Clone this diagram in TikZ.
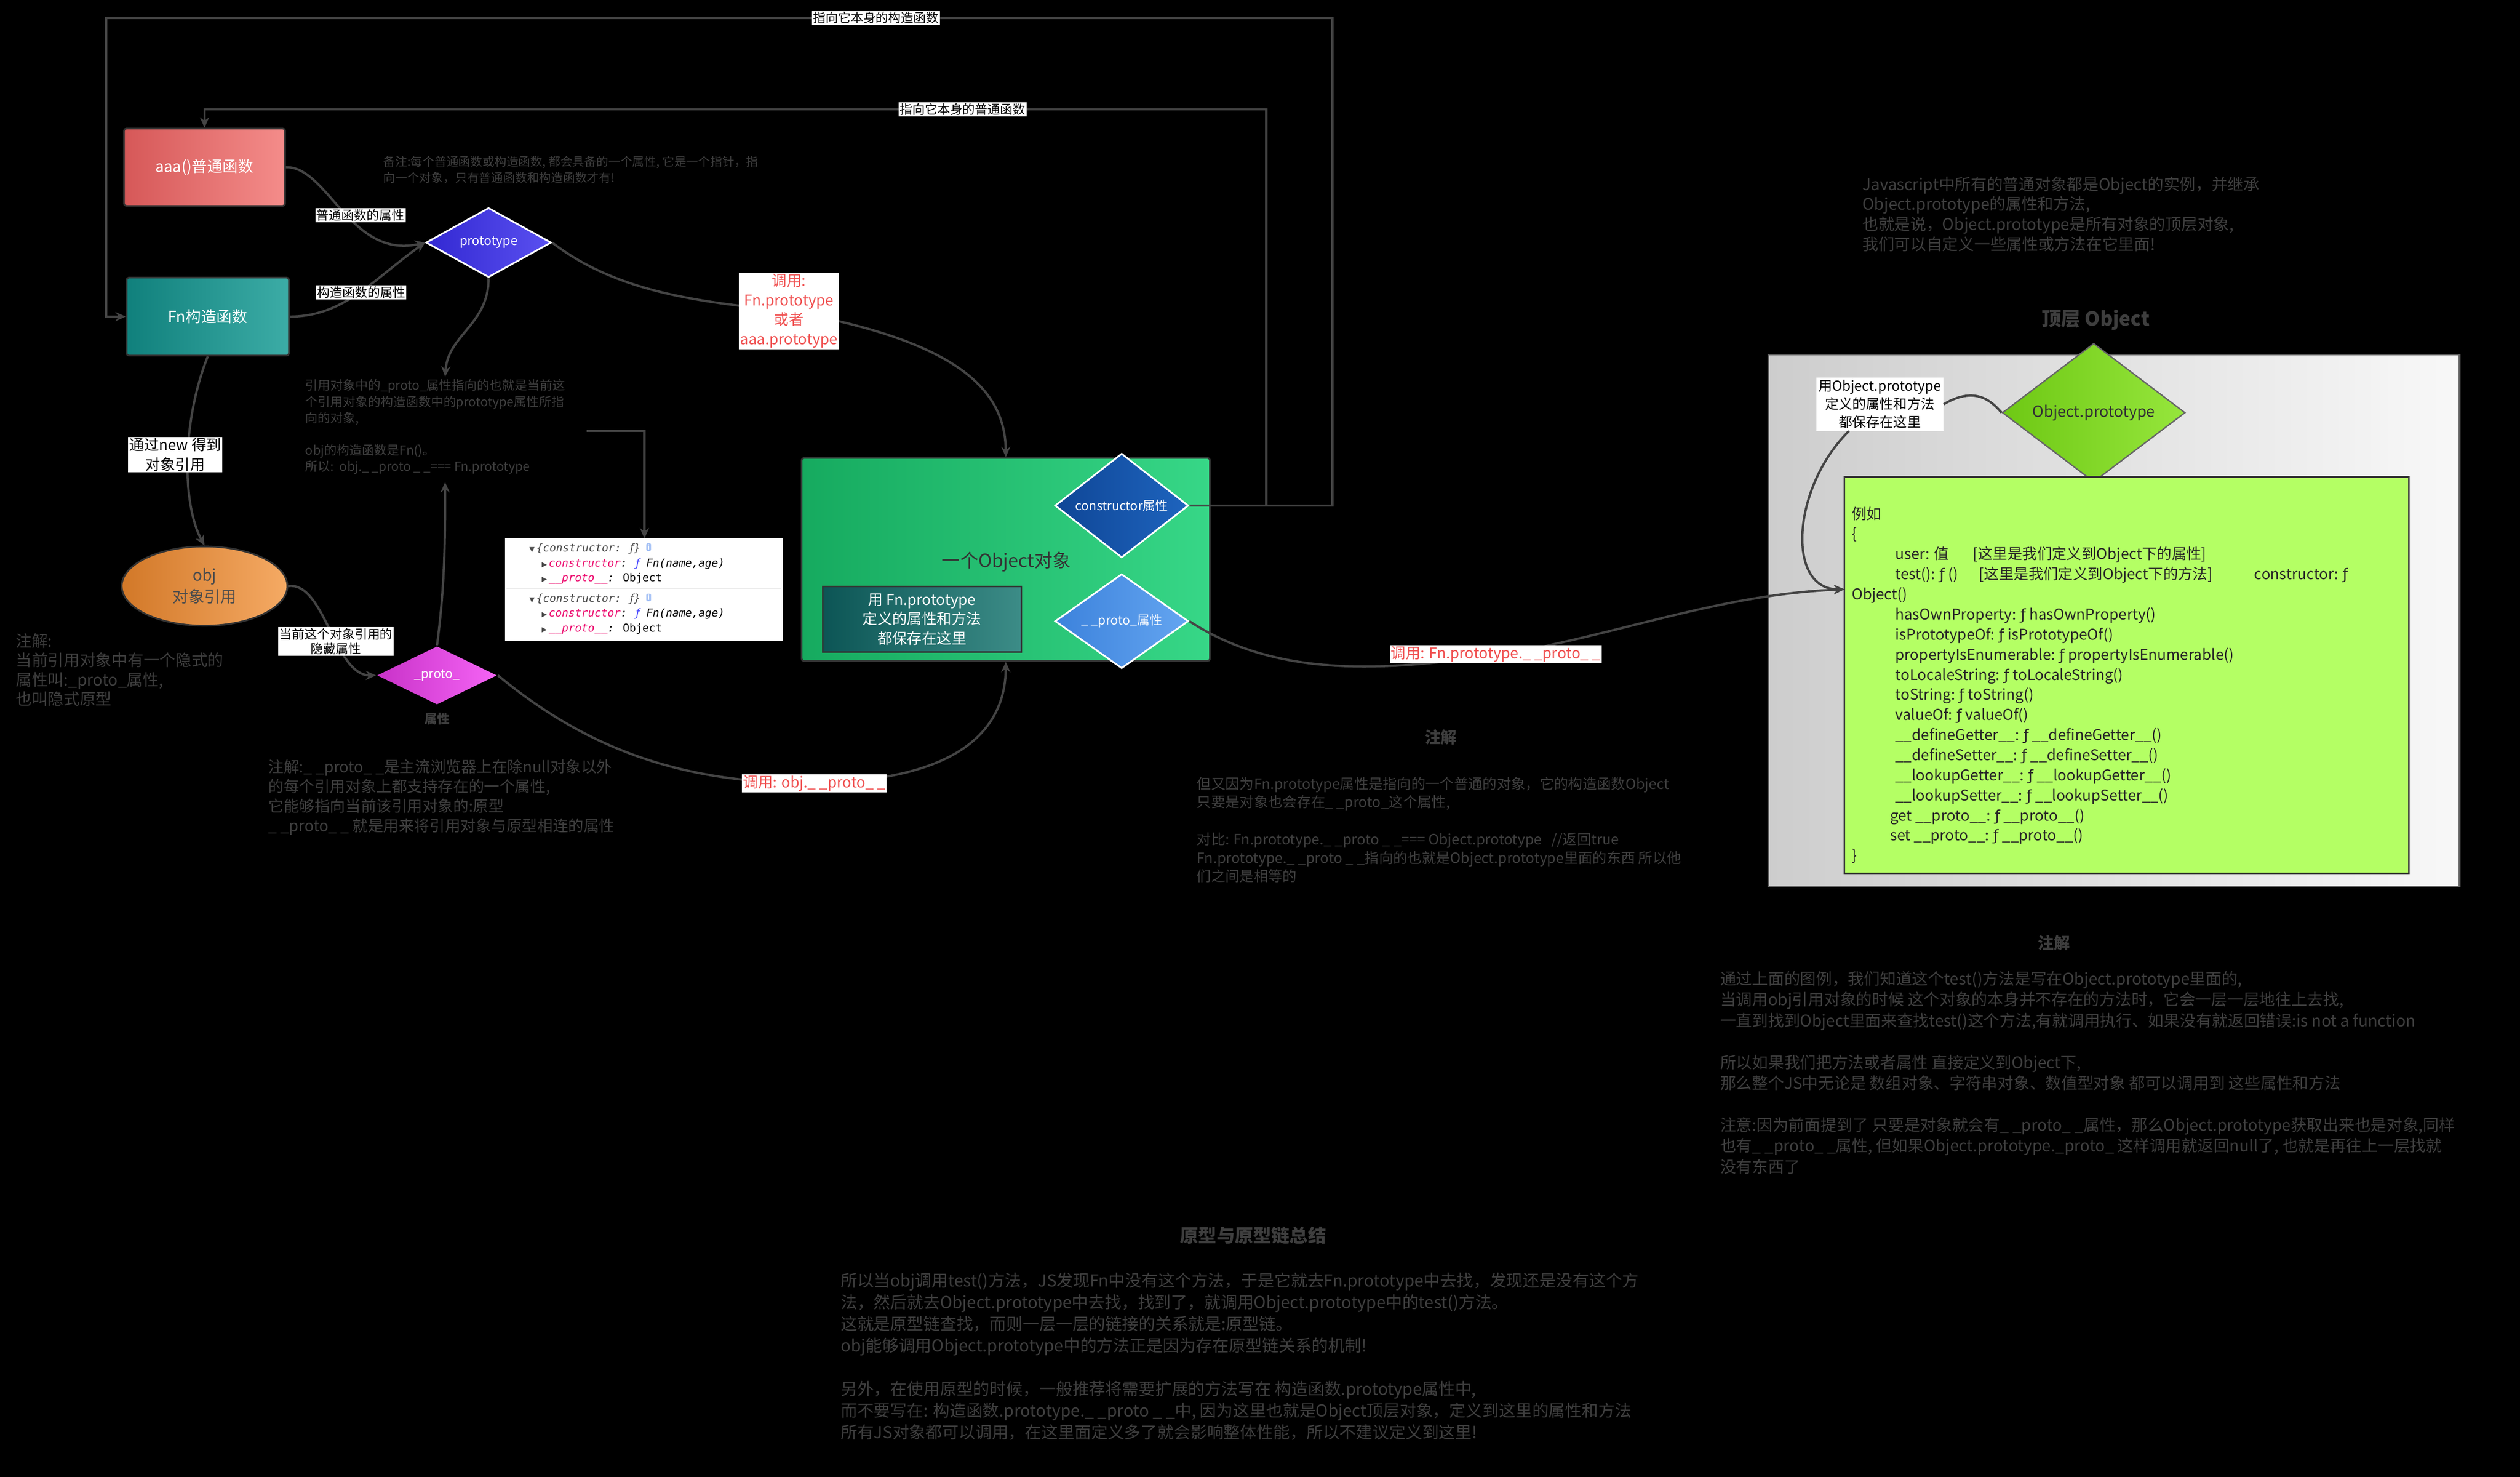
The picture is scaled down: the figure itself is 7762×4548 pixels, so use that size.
\documentclass[tikz,border=0pt]{standalone}
\usepackage{fontspec}
\setmainfont{Noto Sans CJK SC}
\newfontfamily\djv{DejaVu Sans}
\newfontfamily\djm{DejaVu Sans Mono}
\usetikzlibrary{shapes.geometric,arrows.meta}
\newcommand\fsym{{\djv ƒ}}
\definecolor{notegray}{HTML}{3E3E3E}
\definecolor{lgray}{HTML}{444444}
\definecolor{redtxt}{HTML}{F05050}
\definecolor{limec}{HTML}{B4FF64}
\begin{document}
\begin{tikzpicture}[x=0.01cm,y=-0.01cm,
  conn/.style={draw=lgray,line width=2pt},
  arr/.style={conn,-{Stealth[length=9pt,width=8pt]}},
  boxn/.style={draw=black!80,line width=1.5pt,rounded corners=2pt,text=white,align=center,inner sep=0},
  dia/.style={diamond,draw=white,line width=1.5pt,inner sep=0,text=white,align=center},
  note/.style={anchor=north west,align=left,inner sep=0,text=notegray},
  wlbl/.style={fill=white,text=black,inner sep=1pt,align=center,font=\fontsize{11}{14}\selectfont},
  rlbl/.style={fill=white,text=redtxt,inner sep=1pt,align=center,font=\fontsize{13}{17}\selectfont},
  ttl/.style={text=notegray,font=\bfseries\fontsize{14}{17}\selectfont,inner sep=0},
  mono/.style={anchor=west,inner sep=0,font=\djm\itshape\fontsize{9.5}{11}\selectfont}]
\fill[black] (0,0) rectangle (7762,4548);
\useasboundingbox (0,0) rectangle (7762,4548);

% ---------- main nodes ----------
\node[boxn,left color=red!60!black!20!red!70,right color=red!45!white,shading angle=45,
  minimum width=4.96cm,minimum height=2.38cm,font=\fontsize{13.5}{16}\selectfont,
  left color={rgb,255:red,214;green,88;blue,88},right color={rgb,255:red,244;green,140;blue,138}] (aaa) at (630,515) {aaa()普通函数};
\node[boxn,left color={rgb,255:red,16;green,128;blue,124},right color={rgb,255:red,60;green,172;blue,166},
  minimum width=5.0cm,minimum height=2.4cm,font=\fontsize{13.5}{16}\selectfont] (fn) at (640,975) {Fn构造函数};
\node[dia,left color={rgb,255:red,50;green,40;blue,210},right color={rgb,255:red,90;green,80;blue,240},
  minimum width=3.86cm,minimum height=1.8cm,font=\fontsize{11}{13}\selectfont] (proto) at (1505,747) {prototype};
\node[ellipse,draw=black!80,line width=1.5pt,left color={rgb,255:red,210;green,120;blue,40},right color={rgb,255:red,245;green,170;blue,100},
  minimum width=5.1cm,minimum height=2.44cm,inner sep=0,align=center,text=black!70,font=\fontsize{14}{19}\selectfont] (obj) at (630,1805) {obj\\对象引用};
\node[dia,draw=none,left color={rgb,255:red,200;green,50;blue,200},right color={rgb,255:red,245;green,100;blue,245},
  minimum width=3.7cm,minimum height=1.8cm,font=\fontsize{11}{13}\selectfont] (pd) at (1346,2080) {\_proto\_};
\node[text=notegray,font=\bfseries\fontsize{11}{13}\selectfont,inner sep=0] (pdl) at (1346,2213) {属性};

\node[draw=black!80,line width=1.5pt,rounded corners=2pt,left color={rgb,255:red,22;green,170;blue,95},right color={rgb,255:red,55;green,215;blue,135},
  minimum width=12.57cm,minimum height=6.25cm,inner sep=0] (green) at (3098,1723) {};
\node[text=black!80,font=\fontsize{16}{19}\selectfont,inner sep=0] (gtxt) at (3100,1730) {一个Object对象};
\node[draw=black!80,line width=1.5pt,left color={rgb,255:red,12;green,85;blue,85},right color={rgb,255:red,60;green,140;blue,135},
  minimum width=6.12cm,minimum height=2.02cm,inner sep=0,align=center,text=white,font=\fontsize{13}{17}\selectfont] (inner) at (2840,1907) {用 Fn.prototype\\定义的属性和方法\\都保存在这里};
\node[dia,left color={rgb,255:red,15;green,70;blue,150},right color={rgb,255:red,30;green,100;blue,190},
  minimum width=4.11cm,minimum height=2.11cm,font=\fontsize{11}{13}\selectfont] (ctor) at (3455,1557) {constructor属性};
\node[dia,left color={rgb,255:red,60;green,130;blue,220},right color={rgb,255:red,100;green,165;blue,240},
  minimum width=4.11cm,minimum height=2.11cm,font=\fontsize{11}{13}\selectfont] (pp) at (3455,1913) {\_ \_proto\_属性};

% screenshot
\node[fill=white,minimum width=8.56cm,minimum height=3.17cm,inner sep=0] (shot) at (1983,1816) {};
\draw[black!10,line width=1pt] (1560,1812) -- (2405,1812);
\foreach \yy in {1690,1845}{
  \node[mono,text=black!70] at (1630,\yy) {{\djv\fontsize{6}{7}\selectfont ▼}\,\{constructor: \fsym\}};
  \node[fill={rgb,255:red,160;green,190;blue,245},rounded corners=1pt,text=white,inner sep=1pt,font=\djv\bfseries\fontsize{6}{7}\selectfont] at (1998,\yy-5) {i};
  \node[mono] at (1668,\yy+46) {{\djv\fontsize{6}{7}\selectfont\color{black!70}▶}\,\textcolor{magenta!70!red}{constructor}: \textcolor{blue!70}{\fsym} Fn(name,age)};
  \node[mono] at (1668,\yy+92) {{\djv\fontsize{6}{7}\selectfont\color{black!70}▶}\,\textcolor{magenta!70!red}{\_\_proto\_\_}: \textup{Object}};
}

% top object area
\node[draw=black!60,line width=1.5pt,left color={rgb,255:red,205;green,205;blue,205},right color={rgb,255:red,248;green,248;blue,248},
  minimum width=21.28cm,minimum height=16.36cm,inner sep=0] (gray) at (6511,1911) {};
\node[diamond,draw=black!60,line width=1.2pt,left color={rgb,255:red,110;green,200;blue,20},right color={rgb,255:red,150;green,230;blue,60},
  minimum width=5.63cm,minimum height=2.45cm,inner sep=0,text=black!80,font=\fontsize{13.5}{16}\selectfont] (odia) at (6449,1271) {Object.prototype};
\node[draw=black!80,line width=1.5pt,fill=limec,minimum width=17.38cm,minimum height=12.2cm,inner sep=0] (lime) at (6550,2079) {};
\node[fill=white,text=black,inner sep=2pt,align=center,font=\fontsize{12}{16}\selectfont] (oplbl) at (5790,1245) {用Object.prototype\\定义的属性和方法\\都保存在这里};
\node[anchor=north west,align=left,inner sep=0,text=black!85,font=\fontsize{13}{17.6}\selectfont] (limetxt) at (5703,1560) {%
例如\\
\{\\
\hspace*{1.34cm}user: 值\hspace{1.6em}[这里是我们定义到Object下的属性]\\
\hspace*{1.34cm}test(): \fsym\ ()\hspace{1.4em}[这里是我们定义到Object下的方法]\hspace{2.8em}constructor: \fsym\\
Object()\\
\hspace*{1.34cm}hasOwnProperty: \fsym\ hasOwnProperty()\\
\hspace*{1.34cm}isPrototypeOf: \fsym\ isPrototypeOf()\\
\hspace*{1.34cm}propertyIsEnumerable: \fsym\ propertyIsEnumerable()\\
\hspace*{1.34cm}toLocaleString: \fsym\ toLocaleString()\\
\hspace*{1.34cm}toString: \fsym\ toString()\\
\hspace*{1.34cm}valueOf: \fsym\ valueOf()\\
\hspace*{1.34cm}\_\_defineGetter\_\_: \fsym\ \_\_defineGetter\_\_()\\
\hspace*{1.34cm}\_\_defineSetter\_\_: \fsym\ \_\_defineSetter\_\_()\\
\hspace*{1.34cm}\_\_lookupGetter\_\_: \fsym\ \_\_lookupGetter\_\_()\\
\hspace*{1.34cm}\_\_lookupSetter\_\_: \fsym\ \_\_lookupSetter\_\_()\\
\hspace*{1.18cm}get \_\_proto\_\_: \fsym\ \_\_proto\_\_()\\
\hspace*{1.18cm}set \_\_proto\_\_: \fsym\ \_\_proto\_\_()\\
\}};

% coordinates
\coordinate (noteA) at (1371,1160);
\coordinate (noteB) at (1371,1485);
\coordinate (brk) at (1807,1327);
\coordinate (limein) at (5681,1815);

% ---------- connectors ----------
\draw[arr] (ctor.east) -- (4104,1557) -- (4104,55) -- (327,55) -- (327,975) -- (fn.west);
\draw[arr] (ctor.east) -- (3900,1557) -- (3900,337) -- (630,337) -- (aaa.north);
\draw[arr] (aaa.east) .. controls (1010,512) and (1080,800) .. (proto.west);
\draw[arr] (fn.east) .. controls (1060,975) and (1150,860) .. (proto.west);
\draw[conn] (proto.east) .. controls (1900,900) and (2150,930) .. (2430,958);
\draw[arr] (2430,958) .. controls (2950,1050) and (3097,1200) .. (green.north);
\draw[arr] (proto.south) .. controls (1505,1000) and (1380,1030) .. (noteA);
\draw[arr] (fn.south) .. controls (560,1300) and (560,1550) .. (obj.north);
\draw[arr] (obj.east) .. controls (1000,1790) and (1030,2080) .. (pd.west);
\draw[arr] (pd.north) .. controls (1371,1800) and (1371,1650) .. (noteB);
\draw[conn] (pd.east) .. controls (1800,2300) and (2100,2420) .. (2528,2410);
\draw[arr] (2528,2410) .. controls (2950,2400) and (3097,2250) .. (green.south);
\draw[conn] (pp.east) .. controls (3950,2100) and (4300,2060) .. (4630,2015);
\draw[arr] (4630,2015) .. controls (5000,1950) and (5300,1830) .. (limein);
\draw[arr] (brk) -- (1985,1327) -- (1985,1658);
\draw[arr] ([xshift=-0.95cm]oplbl.south) .. controls (5520,1500) and (5500,1815) .. (limein);
\draw[conn] (oplbl.east) .. controls (6080,1190) and (6130,1230) .. (odia.west);

% ---------- connector labels ----------
\node[wlbl] (l1) at (2698,55) {指向它本身的构造函数};
\node[wlbl] (l2) at (2965,337) {指向它本身的普通函数};
\node[wlbl] (l3) at (1110,663) {普通函数的属性};
\node[wlbl] (l4) at (1113,900) {构造函数的属性};
\node[wlbl,font=\fontsize{13}{17}\selectfont] (l5) at (540,1400) {通过new 得到\\对象引用};
\node[wlbl,font=\fontsize{11}{13}\selectfont] (l6) at (1035,1975) {当前这个对象引用的\\隐藏属性};
\node[rlbl] (r1) at (2430,958) {调用:\\Fn.prototype\\或者\\aaa.prototype};
\node[rlbl,anchor=west] (r2) at (2285,2412) {调用: obj.\_ \_proto\_ \_};
\node[rlbl,anchor=west] (r3) at (4280,2015) {调用: Fn.prototype.\_ \_proto\_ \_};

% ---------- notes ----------
\node[note,font=\fontsize{10.5}{14}\selectfont] (n1) at (1180,480) {备注:每个普通函数或构造函数, 都会具备的一个属性, 它是一个指针，指\\向一个对象，只有普通函数和构造函数才有!};
\node[note,font=\fontsize{11}{14.2}\selectfont] (n2) at (940,1168) {引用对象中的\_proto\_属性指向的也就是当前这\\个引用对象的构造函数中的prototype属性所指\\向的对象,\\[14.2pt]obj的构造函数是Fn()。\\所以:\ \ obj.\_ \_proto \_ \_=== Fn.prototype};
\node[note,font=\fontsize{14}{17}\selectfont] (n3) at (48,1950) {注解:\\当前引用对象中有一个隐式的\\属性叫:\_proto\_属性,\\也叫隐式原型};
\node[note,font=\fontsize{13.5}{17.3}\selectfont] (n4) at (826,2338) {注解:\_ \_proto\_ \_是主流浏览器上在除null对象以外\\的每个引用对象上都支持存在的一个属性,\\它能够指向当前该引用对象的:原型\\\_ \_proto\_ \_ 就是用来将引用对象与原型相连的属性};
\node[ttl] (t1) at (4438,2270) {注解};
\node[note,font=\fontsize{12.5}{16.2}\selectfont] (n5) at (3686,2392) {但又因为Fn.prototype属性是指向的一个普通的对象，它的构造函数Object\\只要是对象也会存在\_ \_proto\_这个属性,\\[16.2pt]对比: Fn.prototype.\_ \_proto \_ \_=== Object.prototype\ \ \ //返回true\\Fn.prototype.\_ \_proto \_ \_指向的也就是Object.prototype里面的东西 所以他\\们之间是相等的};
\node[note,font=\fontsize{14}{17.6}\selectfont] (n6) at (5736,543) {Javascript中所有的普通对象都是Object的实例，并继承\\Object.prototype的属性和方法,\\也就是说，Object.prototype是所有对象的顶层对象,\\我们可以自定义一些属性或方法在它里面!};
\node[ttl,font=\bfseries\fontsize{17}{20}\selectfont] (t2) at (6455,985) {顶层 Object};
\node[ttl] (t3) at (6326,2903) {注解};
\node[note,font=\fontsize{14}{18.3}\selectfont] (n7) at (5298,2990) {通过上面的图例，我们知道这个test()方法是写在Object.prototype里面的,\\当调用obj引用对象的时候 这个对象的本身并不存在的方法时，它会一层一层地往上去找,\\一直到找到Object里面来查找test()这个方法,有就调用执行、如果没有就返回错误:is not a function\\[18.3pt]所以如果我们把方法或者属性 直接定义到Object下,\\那么整个JS中无论是 数组对象、字符串对象、数值型对象 都可以调用到 这些属性和方法\\[18.3pt]注意:因为前面提到了 只要是对象就会有\_ \_proto\_ \_属性，那么Object.prototype获取出来也是对象,同样\\也有\_ \_proto\_ \_属性, 但如果Object.prototype.\_proto\_ 这样调用就返回null了, 也就是再往上一层找就\\没有东西了};
\node[ttl,font=\bfseries\fontsize{16}{19}\selectfont] (t4) at (3860,3805) {原型与原型链总结};
\node[note,font=\fontsize{14.5}{19}\selectfont] (n8) at (2589,3918) {所以当obj调用test()方法，JS发现Fn中没有这个方法，于是它就去Fn.prototype中去找，发现还是没有这个方\\法，然后就去Object.prototype中去找，找到了，就调用Object.prototype中的test()方法。\\这就是原型链查找，而则一层一层的链接的关系就是:原型链。\\obj能够调用Object.prototype中的方法正是因为存在原型链关系的机制!\\[19pt]另外，在使用原型的时候，一般推荐将需要扩展的方法写在 构造函数.prototype属性中,\\而不要写在: 构造函数.prototype.\_ \_proto \_ \_中, 因为这里也就是Object顶层对象，定义到这里的属性和方法\\所有JS对象都可以调用，在这里面定义多了就会影响整体性能，所以不建议定义到这里!};
\end{tikzpicture}
\end{document}
